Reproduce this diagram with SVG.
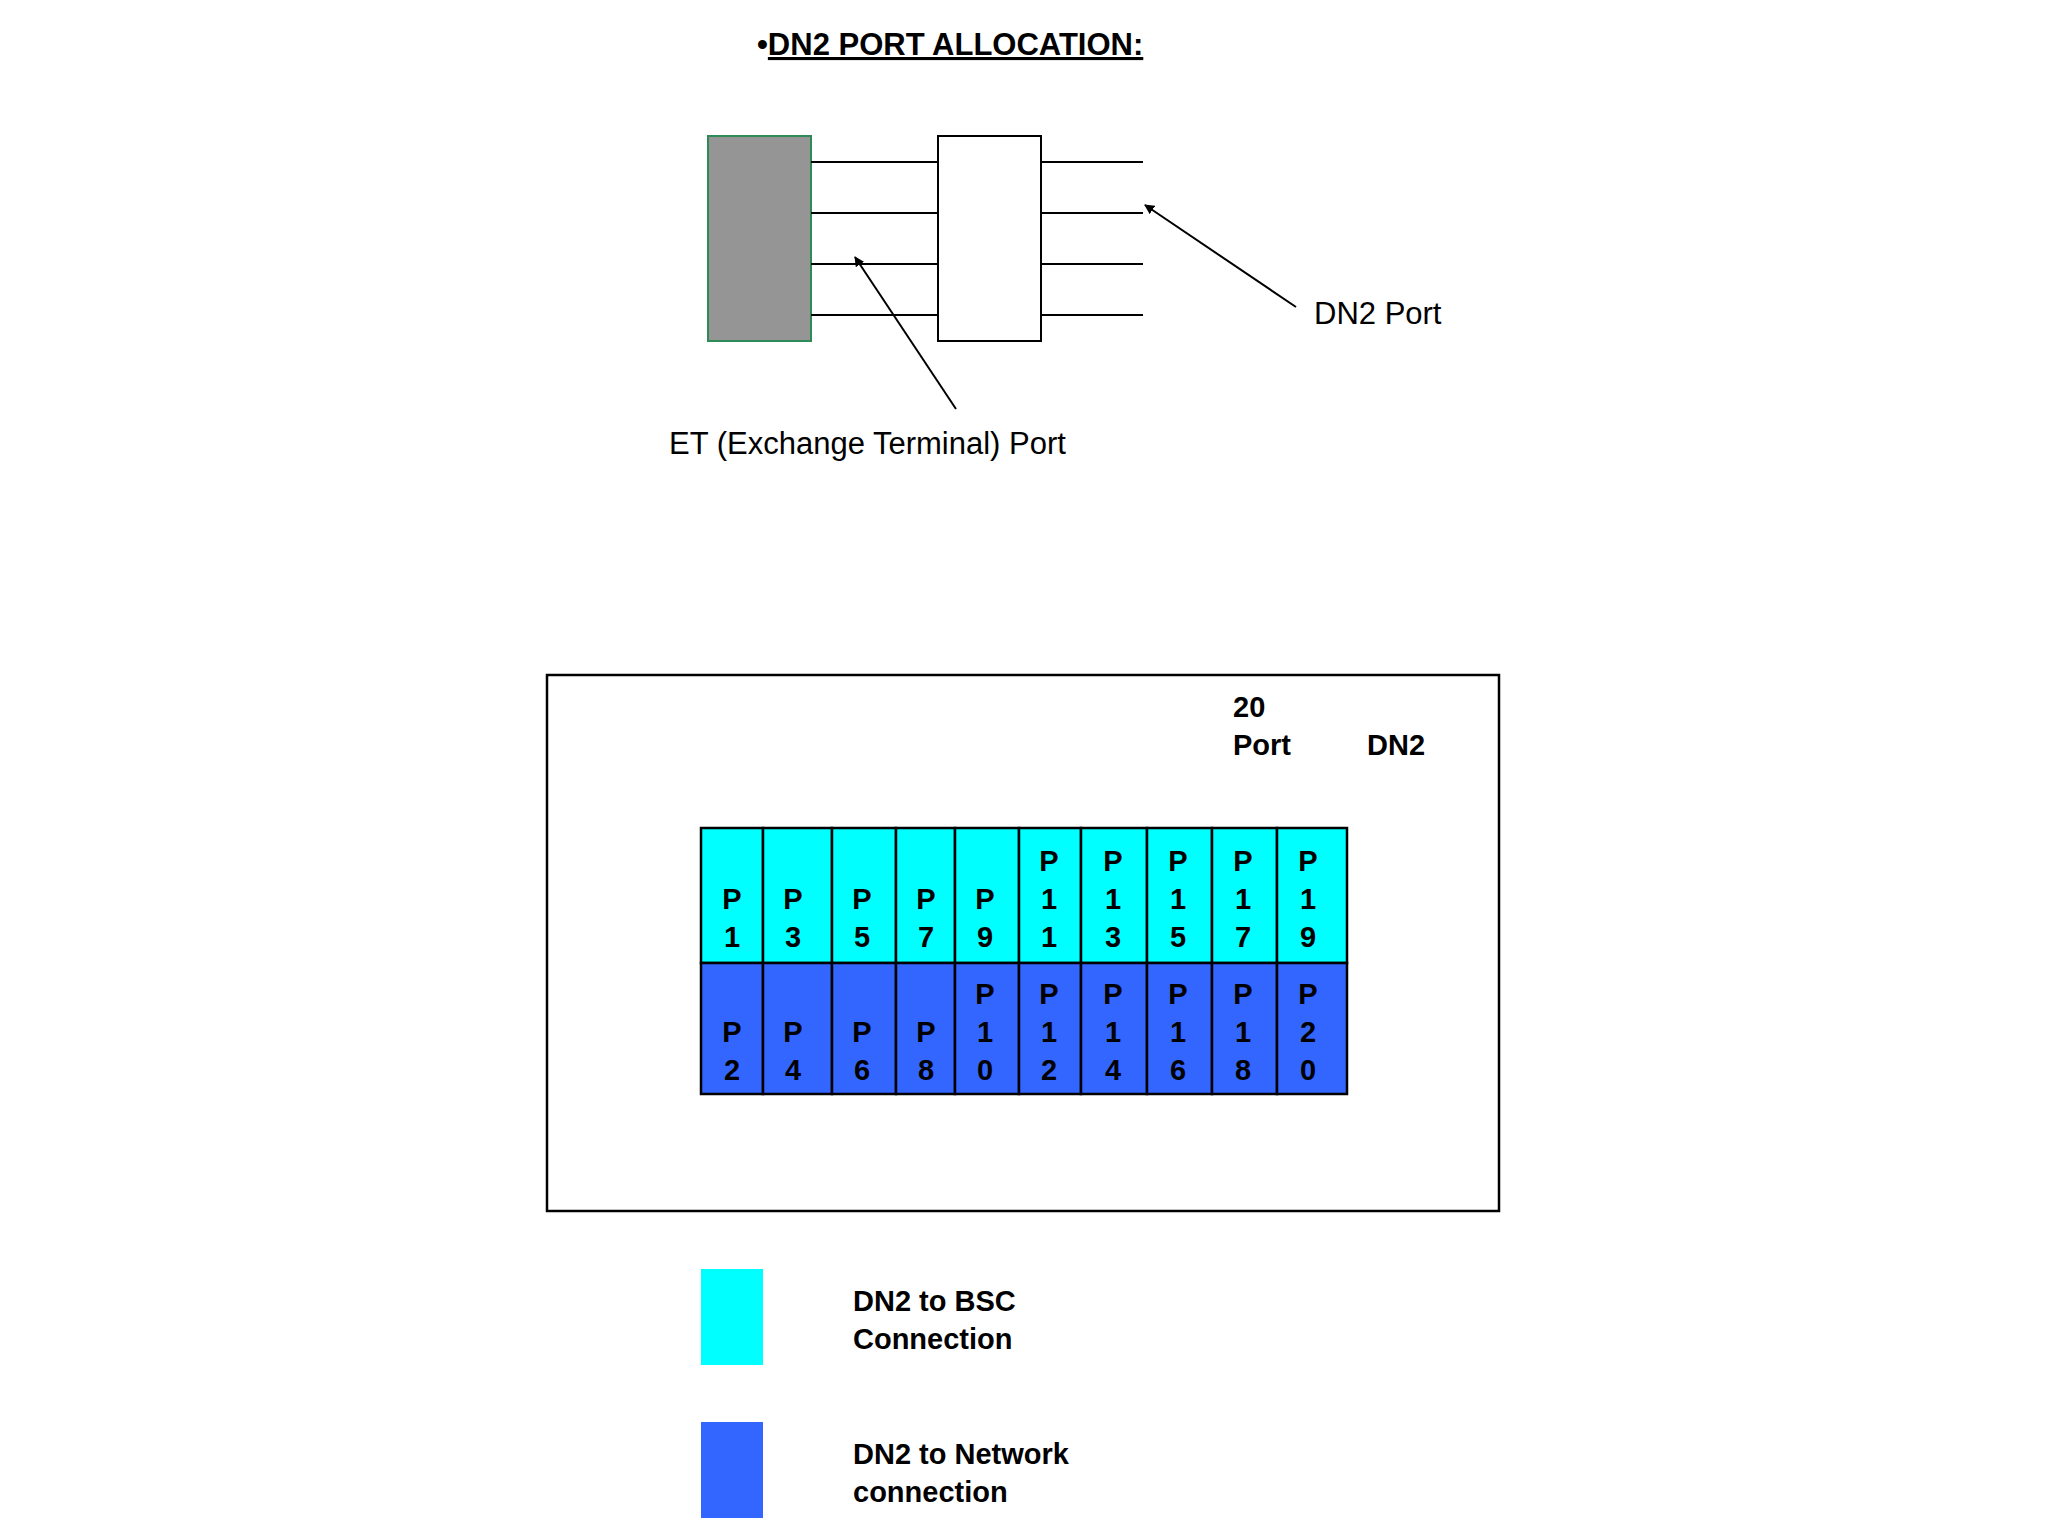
<svg xmlns="http://www.w3.org/2000/svg" width="2048" height="1536" viewBox="0 0 2048 1536">
<style>
text{font-family:"Liberation Sans",Arial,sans-serif;fill:#000}
.b{font-weight:bold;font-size:29px}
.n{font-size:31px}
.p{font-weight:bold;font-size:29px;text-anchor:middle}
.ln{stroke:#000;stroke-width:2;fill:none}
.cy{fill:#00FFFF;stroke:#000;stroke-width:2.5}
.bl{fill:#3366FF;stroke:#000;stroke-width:2.5}
</style>
<defs><marker id="ah" markerWidth="10" markerHeight="10" refX="9" refY="5" orient="auto" markerUnits="userSpaceOnUse"><path d="M0,0 L10,5 L0,10 z" fill="#000"/></marker></defs>
<rect width="2048" height="1536" fill="#fff"/>
<text x="757" y="55" style="font-weight:bold;font-size:31px">•<tspan text-decoration="underline">DN2 PORT ALLOCATION:</tspan></text>
<g id="et"><rect x="708" y="136" width="103" height="205" fill="#959595" stroke="#2e8b57" stroke-width="2"/></g>
<g id="dn2box"><rect x="938" y="136" width="103" height="205" fill="#fff" stroke="#000" stroke-width="2"/></g>
<g id="connectors">
<path class="ln" d="M811 162H938M811 213H938M811 264H938M811 315H938M1041 162H1143M1041 213H1143M1041 264H1143M1041 315H1143"/>
<line class="ln" x1="956" y1="409" x2="855" y2="257" marker-end="url(#ah)"/>
<line class="ln" x1="1296" y1="307" x2="1145" y2="205" marker-end="url(#ah)"/>
</g>
<text class="n" x="1314" y="324">DN2 Port</text>
<text class="n" x="669" y="454">ET (Exchange Terminal) Port</text>
<g id="frame"><rect x="547" y="675" width="952" height="536" fill="none" stroke="#000" stroke-width="2.5"/>
<text class="b" x="1233" y="717">20</text><text class="b" x="1233" y="755">Port</text><text class="b" x="1367" y="755">DN2</text></g>
<g id="grid">
<rect class="cy" x="701" y="828" width="62" height="135"/><rect class="cy" x="763" y="828" width="69" height="135"/><rect class="cy" x="832" y="828" width="64" height="135"/><rect class="cy" x="896" y="828" width="59" height="135"/><rect class="cy" x="955" y="828" width="64" height="135"/><rect class="cy" x="1019" y="828" width="62" height="135"/><rect class="cy" x="1081" y="828" width="66" height="135"/><rect class="cy" x="1147" y="828" width="65" height="135"/><rect class="cy" x="1212" y="828" width="65" height="135"/><rect class="cy" x="1277" y="828" width="70" height="135"/>
<rect class="bl" x="701" y="963" width="62" height="131"/><rect class="bl" x="763" y="963" width="69" height="131"/><rect class="bl" x="832" y="963" width="64" height="131"/><rect class="bl" x="896" y="963" width="59" height="131"/><rect class="bl" x="955" y="963" width="64" height="131"/><rect class="bl" x="1019" y="963" width="62" height="131"/><rect class="bl" x="1081" y="963" width="66" height="131"/><rect class="bl" x="1147" y="963" width="65" height="131"/><rect class="bl" x="1212" y="963" width="65" height="131"/><rect class="bl" x="1277" y="963" width="70" height="131"/>
<text class="p" x="732" y="909">P</text><text class="p" x="732" y="947">1</text>
<text class="p" x="793" y="909">P</text><text class="p" x="793" y="947">3</text>
<text class="p" x="862" y="909">P</text><text class="p" x="862" y="947">5</text>
<text class="p" x="926" y="909">P</text><text class="p" x="926" y="947">7</text>
<text class="p" x="985" y="909">P</text><text class="p" x="985" y="947">9</text>
<text class="p" x="1049" y="871">P</text><text class="p" x="1049" y="909">1</text><text class="p" x="1049" y="947">1</text>
<text class="p" x="1113" y="871">P</text><text class="p" x="1113" y="909">1</text><text class="p" x="1113" y="947">3</text>
<text class="p" x="1178" y="871">P</text><text class="p" x="1178" y="909">1</text><text class="p" x="1178" y="947">5</text>
<text class="p" x="1243" y="871">P</text><text class="p" x="1243" y="909">1</text><text class="p" x="1243" y="947">7</text>
<text class="p" x="1308" y="871">P</text><text class="p" x="1308" y="909">1</text><text class="p" x="1308" y="947">9</text>
<text class="p" x="732" y="1042">P</text><text class="p" x="732" y="1080">2</text>
<text class="p" x="793" y="1042">P</text><text class="p" x="793" y="1080">4</text>
<text class="p" x="862" y="1042">P</text><text class="p" x="862" y="1080">6</text>
<text class="p" x="926" y="1042">P</text><text class="p" x="926" y="1080">8</text>
<text class="p" x="985" y="1004">P</text><text class="p" x="985" y="1042">1</text><text class="p" x="985" y="1080">0</text>
<text class="p" x="1049" y="1004">P</text><text class="p" x="1049" y="1042">1</text><text class="p" x="1049" y="1080">2</text>
<text class="p" x="1113" y="1004">P</text><text class="p" x="1113" y="1042">1</text><text class="p" x="1113" y="1080">4</text>
<text class="p" x="1178" y="1004">P</text><text class="p" x="1178" y="1042">1</text><text class="p" x="1178" y="1080">6</text>
<text class="p" x="1243" y="1004">P</text><text class="p" x="1243" y="1042">1</text><text class="p" x="1243" y="1080">8</text>
<text class="p" x="1308" y="1004">P</text><text class="p" x="1308" y="1042">2</text><text class="p" x="1308" y="1080">0</text>
</g>
<g id="legend">
<rect x="701" y="1269" width="62" height="96" fill="#00FFFF"/>
<rect x="701" y="1422" width="62" height="96" fill="#3366FF"/>
<text class="b" x="853" y="1311">DN2 to BSC</text><text class="b" x="853" y="1349">Connection</text>
<text class="b" x="853" y="1464">DN2 to Network</text><text class="b" x="853" y="1502">connection</text>
</g>
</svg>
